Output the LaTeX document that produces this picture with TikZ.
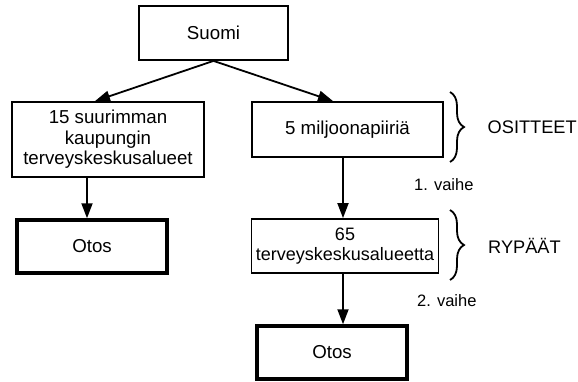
\documentclass[tikz,border=0pt]{standalone}
\usepackage{fontspec}
\setmainfont{Liberation Sans}
\usetikzlibrary{arrows.meta,decorations.pathreplacing}

\tikzset{
    laatikko/.style={draw, line width=1.8pt, align=center, inner sep=0pt, font=\fontsize{18.7}{20.5}\selectfont},
    otos/.style={laatikko, line width=3.5pt, minimum width=150pt, minimum height=53pt},
    nuoli/.style={line width=1.8pt, -{Triangle[length=15pt,width=11pt]}},
    sulku/.style={line width=1.8pt, decorate, decoration={brace, amplitude=14pt}},
    teksti/.style={inner sep=0pt, anchor=west, font=\fontsize{18.2}{20}\selectfont},
    vaihe/.style={inner sep=0pt, anchor=west, font=\fontsize{16.5}{18}\selectfont}
}

\begin{document}
\begin{tikzpicture}[x=1pt,y=-1pt]
    \useasboundingbox (0,0) rectangle (578,381);
    \node[laatikko, minimum width=149pt, minimum height=54pt] (suomi) at (213.5,33) {Suomi};
    \node[laatikko, minimum width=192pt, minimum height=75pt] (kaupungit) at (108,139.5) {15 suurimman\\kaupungin\\terveyskeskusalueet};
    \node[laatikko, minimum width=191pt, minimum height=55pt] (piirit) at (347.5,129.5) {5 miljoonapiiriä};
    \node[otos] (otos1) at (92,246.5) {Otos};
    \node[laatikko, minimum width=187pt, minimum height=54pt, font=\fontsize{18}{20.5}\selectfont] (alueet) at (345,246) {65\\terveyskeskusalueetta};
    \node[otos] (otos2) at (332,352.5) {Otos};
    \node[teksti] (ositteet) at (487.5,127) {OSITTEET};
    \node[vaihe] (vaihe1) at (414,185) {1. vaihe};
    \node[teksti] (rypaat) at (488,246) {RYPÄÄT};
    \node[vaihe] (vaihe2) at (417,301) {2. vaihe};
    \draw[nuoli] (suomi.south) -- ([xshift=-13pt]kaupungit.north);
    \draw[nuoli] (suomi.south) -- ([xshift=-14.5pt]piirit.north);
    \draw[nuoli] ([xshift=-5pt]otos1.north |- kaupungit.south) -- ([xshift=-5pt]otos1.north);
    \draw[nuoli] ([xshift=-4.5pt]piirit.south) -- ([xshift=-4.5pt]piirit.south |- alueet.north);
    \draw[nuoli] ([xshift=-2pt]alueet.south) -- ([xshift=-2pt]alueet.south |- otos2.north);
    \draw[sulku] (450,92) -- (450,162);
    \draw[sulku] (450,210) -- (450,280);
\end{tikzpicture}
\end{document}
